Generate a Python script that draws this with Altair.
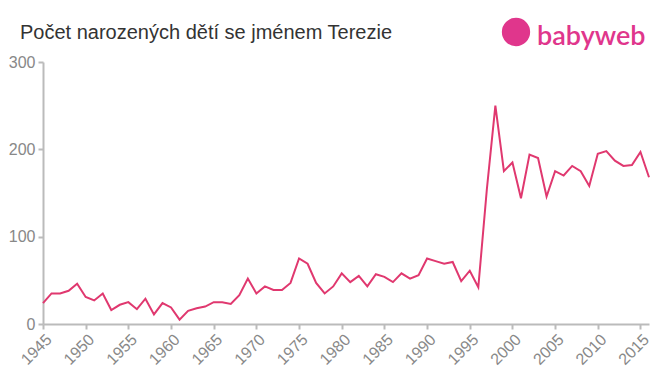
import altair as alt
import pandas as pd

years = list(range(1945, 2017))
counts = [24, 35, 35, 38, 46, 31, 27, 35, 16, 22,
          25, 17, 29, 11, 24, 19, 5, 15, 18, 20,
          25, 25, 23, 33, 52, 35, 43, 39, 39, 47,
          75, 69, 47, 35, 43, 58, 48, 55, 43, 57,
          54, 48, 58, 52, 56, 75, 72, 69, 71, 49,
          61, 42, 154, 250, 175, 185, 144, 194, 190, 146,
          175, 170, 181, 175, 158, 195, 198, 187, 181, 182,
          197, 168]

title_text = "Počet narozených dětí se jménem Terezie"
logo_text = "babyweb"

df = pd.DataFrame({"year": years, "count": counts})

line = alt.Chart(df).mark_line(color="#e0386f", strokeWidth=2).encode(
    x=alt.X("year:Q", scale=alt.Scale(domain=[1945, 2016], nice=False, zero=False),
            axis=alt.Axis(values=list(range(1945, 2016, 5)), format="d", title=None,
                          labelAngle=-45, labelAlign="right", labelBaseline="top",
                          labelFontSize=16, labelColor="#888", labelFont="Liberation Sans",
                          domainColor="#bbb", tickColor="#bbb", domainWidth=2, tickWidth=2,
                          tickSize=5, grid=False, labelPadding=2)),
    y=alt.Y("count:Q", scale=alt.Scale(domain=[0, 300], nice=False),
            axis=alt.Axis(values=[0, 100, 200, 300], title=None, labelFontSize=16,
                          labelColor="#888", labelFont="Liberation Sans",
                          domainColor="#bbb", tickColor="#bbb", domainWidth=2, tickWidth=2,
                          tickSize=5, grid=False, labelPadding=3)),
)

text_df = pd.DataFrame({"t": [logo_text], "title": [title_text]})
title = alt.Chart(text_df).mark_text(
    color="#333", fontSize=20, font="Liberation Sans", align="left", baseline="alphabetic"
).encode(x=alt.value(-23), y=alt.value(-23), text="title:N")
logo = alt.Chart(text_df).mark_text(
    color="#e0368c", fontSize=27, font="Lato", fontWeight=600, align="left",
    baseline="alphabetic"
).encode(x=alt.value(494), y=alt.value(-17), text="t:N")
icon = alt.Chart(text_df).mark_point(
    filled=True, color="#e0368c", size=800, shape="circle", opacity=1
).encode(x=alt.value(473), y=alt.value(-30))

chart = alt.layer(line, title, icon, logo).properties(
    width=606, height=262,
    autosize=alt.AutoSizeParams(type="none"),
    padding={"left": 43, "top": 62, "right": 11, "bottom": 51},
).configure_view(stroke=None)

chart.save("out.html", embed_options={"renderer": "svg", "actions": False})
